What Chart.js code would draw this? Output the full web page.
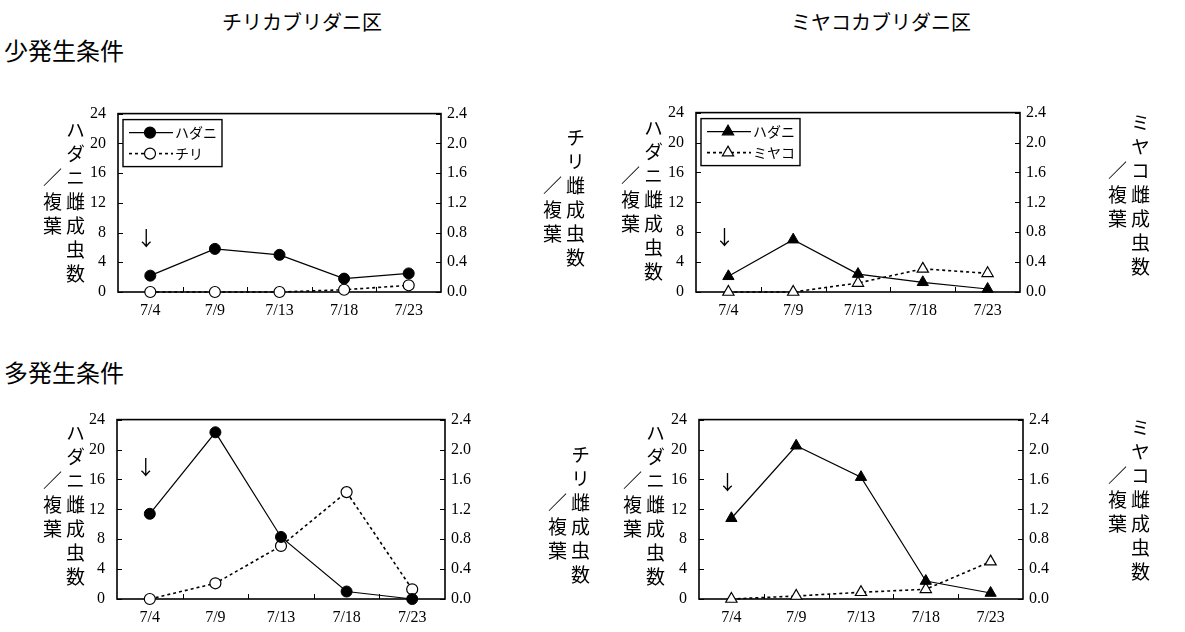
<!DOCTYPE html>
<html lang="ja">
<head>
<meta charset="UTF-8">
<title>ハダニとカブリダニの雌成虫数の推移</title>
<script src="https://cdn.jsdelivr.net/npm/chart.js"></script>
<style>
    body {
        margin: 0;
        width: 1185px;
        height: 632px;
        position: relative;
        overflow: hidden;
        background: #fff;
        color: #000;
        font-family: 'Noto Sans CJK JP', sans-serif;
    }
    .head { position: absolute; font-size: 20px; line-height: 24px; white-space: nowrap; }
    .row { position: absolute; font-size: 24px; line-height: 28px; left: 4px; white-space: nowrap; }
    .vt {
        position: absolute;
        writing-mode: vertical-rl;
        text-orientation: upright;
        font-size: 19px;
        line-height: 22px;
        letter-spacing: 5px;
        white-space: nowrap;
        filter: grayscale(1);
    }
    canvas { position: absolute; }
</style>
</head>
<body>

<div class="head" style="left:222px; top:10px;">チリカブリダニ区</div>
<div class="head" style="left:791px; top:10px;">ミヤコカブリダニ区</div>
<div class="row" style="top:36px;">少発生条件</div>
<div class="row" style="top:358px;">多発生条件</div>

<div id="titles"></div>

<canvas id="c1"></canvas>
<canvas id="c2"></canvas>
<canvas id="c3"></canvas>
<canvas id="c4"></canvas>

<script>
// データ
const dates = ['7/4', '7/9', '7/13', '7/18', '7/23'];

// 少発生条件
const lowChiriHadani = [2.2, 5.8, 5.0, 1.8, 2.5];
const lowChiri = [0, 0, 0, 0.03, 0.09];
const lowMiyaHadani = [2.1, 7.0, 2.4, 1.3, 0.4];
const lowMiyako = [0, 0, 0.12, 0.31, 0.25];

// 多発生条件
const highChiriHadani = [11.4, 22.3, 8.3, 1.0, 0];
const highChiri = [0, 0.21, 0.71, 1.43, 0.13];
const highMiyaHadani = [10.8, 20.5, 16.3, 2.4, 0.8];
const highMiyako = [0, 0.04, 0.09, 0.13, 0.50];

// 放飼日の矢印（左軸の値）
const arrowLevels = [7.2, 7.3, 17.6, 15.6];

const numFont = { family: "'Liberation Serif', serif", size: 16 };
const jpFont = "'Noto Sans CJK JP', sans-serif";

const panels = [
    { id: 'c1', hadani: lowChiriHadani, pred: lowChiri, name: 'チリ', shape: 'circle', arrow: arrowLevels[0], legend: true,
      box: [118, 102, 323, 190], left: [75, 120], right: [575, 128] },
    { id: 'c2', hadani: lowMiyaHadani, pred: lowMiyako, name: 'ミヤコ', shape: 'triangle', arrow: arrowLevels[1], legend: true,
      box: [696, 101, 324, 191], left: [653, 118], right: [1140, 113] },
    { id: 'c3', hadani: highChiriHadani, pred: highChiri, name: 'チリ', shape: 'circle', arrow: arrowLevels[2], legend: false,
      box: [117, 408, 328, 191], left: [75, 423], right: [580, 445] },
    { id: 'c4', hadani: highMiyaHadani, pred: highMiyako, name: 'ミヤコ', shape: 'triangle', arrow: arrowLevels[3], legend: false,
      box: [699, 408, 324, 191], left: [655, 423], right: [1140, 418] }
];

// 縦書きの軸タイトル（2列目は3文字目から）
function vTitle(cx, top, main) {
    const t = document.getElementById('titles');
    const a = document.createElement('div');
    a.className = 'vt';
    a.textContent = main;
    a.style.left = (cx - 11) + 'px';
    a.style.top = top + 'px';
    t.appendChild(a);
    const b = document.createElement('div');
    b.className = 'vt';
    b.textContent = '／複葉';
    b.style.left = (cx - 34) + 'px';
    b.style.top = (top + 48) + 'px';
    t.appendChild(b);
}

function markStyle(shape) {
    return {
        pointStyle: shape,
        radius: shape === 'triangle' ? 6.5 : 5.5,
        rotation: 0,
        borderWidth: 1.2
    };
}

const framePlugin = {
    id: 'frame',
    beforeDatasetsDraw(chart) {
        const { ctx, chartArea: a, scales } = chart;
        ctx.save();
        ctx.strokeStyle = '#000';
        ctx.lineWidth = 1;
        ctx.beginPath();
        scales.y.ticks.forEach(t => {
            const y = Math.round(scales.y.getPixelForValue(t.value)) + 0.5;
            ctx.moveTo(a.left, y);
            ctx.lineTo(a.left + 5, y);
        });
        scales.y1.ticks.forEach(t => {
            const y = Math.round(scales.y1.getPixelForValue(t.value)) + 0.5;
            ctx.moveTo(a.right, y);
            ctx.lineTo(a.right - 5, y);
        });
        for (let i = 1; i < dates.length; i++) {
            const x = Math.round((scales.x.getPixelForValue(i - 1) + scales.x.getPixelForValue(i)) / 2) + 0.5;
            ctx.moveTo(x, a.bottom);
            ctx.lineTo(x, a.bottom - 5);
        }
        ctx.stroke();
        ctx.lineWidth = 1.6;
        ctx.strokeRect(a.left, a.top, a.width, a.height);
        ctx.restore();
    },
    afterDatasetsDraw(chart, args, opts) {
        const { ctx, chartArea: a, scales } = chart;
        ctx.save();
        // 矢印
        ctx.fillStyle = '#000';
        ctx.font = '20px ' + jpFont;
        ctx.textAlign = 'center';
        ctx.textBaseline = 'middle';
        ctx.fillText('↓', scales.x.getPixelForValue(0) - 4, scales.y.getPixelForValue(opts.arrow));

        if (opts.legend) {
            const lx = a.left + 5, ly = a.top + 6, lw = 99, lh = 47;
            ctx.fillStyle = '#fff';
            ctx.fillRect(lx, ly, lw, lh);
            ctx.strokeStyle = '#000';
            ctx.lineWidth = 1.4;
            ctx.strokeRect(lx, ly, lw, lh);

            const rows = [
                { y: ly + 13, dash: [], fill: '#000', text: 'ハダニ' },
                { y: ly + 34, dash: [3, 3], fill: '#fff', text: opts.name }
            ];
            rows.forEach(r => {
                ctx.strokeStyle = '#000';
                ctx.lineWidth = r.dash.length ? 1.6 : 1.2;
                ctx.setLineDash(r.dash);
                ctx.beginPath();
                ctx.moveTo(lx + 6, r.y);
                ctx.lineTo(lx + 50, r.y);
                ctx.stroke();
                ctx.setLineDash([]);
                ctx.fillStyle = r.fill;
                ctx.lineWidth = 1.2;
                Chart.helpers.drawPoint(ctx, markStyle(opts.shape), lx + 27, r.y);
                ctx.fillStyle = '#000';
                ctx.font = '14px ' + jpFont;
                ctx.textAlign = 'left';
                ctx.textBaseline = 'middle';
                ctx.fillText(r.text, lx + 52, r.y);
            });
        }
        ctx.restore();
    }
};

panels.forEach(p => {
    const [bx, by, bw, bh] = p.box;
    const cv = document.getElementById(p.id);
    const padTop = 10, leftW = 30, rightW = 40, bottomH = 30;
    cv.width = bw + leftW + rightW;
    cv.height = bh + padTop + bottomH;
    cv.style.left = (bx - leftW) + 'px';
    cv.style.top = (by - padTop) + 'px';

    vTitle(p.left[0], p.left[1], 'ハダニ雌成虫数');
    vTitle(p.right[0], p.right[1], p.name + '雌成虫数');

    const ms = markStyle(p.shape);
    new Chart(cv, {
        type: 'line',
        data: {
            labels: dates,
            datasets: [
                {
                    label: 'ハダニ',
                    data: p.hadani,
                    yAxisID: 'y',
                    borderColor: '#000',
                    borderWidth: 1.2,
                    backgroundColor: '#000',
                    pointStyle: p.shape,
                    pointRadius: ms.radius,
                    pointBorderWidth: 1,
                    pointBackgroundColor: '#000',
                    pointBorderColor: '#000',
                    tension: 0,
                    clip: false
                },
                {
                    label: p.name,
                    data: p.pred,
                    yAxisID: 'y1',
                    borderColor: '#000',
                    borderWidth: 1.6,
                    borderDash: [3, 3],
                    pointStyle: p.shape,
                    pointRadius: ms.radius,
                    pointBorderWidth: 1.2,
                    pointBackgroundColor: '#fff',
                    pointBorderColor: '#000',
                    tension: 0,
                    clip: false
                }
            ]
        },
        options: {
            responsive: false,
            animation: false,
            events: [],
            layout: { padding: { top: padTop, left: 0, right: 0, bottom: 0 } },
            plugins: {
                legend: { display: false },
                tooltip: { enabled: false },
                frame: { arrow: p.arrow, legend: p.legend, name: p.name, shape: p.shape }
            },
            scales: {
                x: {
                    type: 'category',
                    offset: true,
                    grid: { display: false, drawTicks: false },
                    border: { display: false },
                    ticks: { color: '#000', font: numFont, padding: 9, maxRotation: 0, autoSkip: false },
                    afterFit(s) { s.height = bottomH; }
                },
                y: {
                    position: 'left',
                    min: 0,
                    max: 24,
                    grid: { display: false, drawTicks: false },
                    border: { display: false },
                    ticks: { stepSize: 4, color: '#000', font: numFont, padding: 12 },
                    afterFit(s) { s.width = leftW; }
                },
                y1: {
                    position: 'right',
                    min: 0,
                    max: 2.4,
                    grid: { display: false, drawTicks: false },
                    border: { display: false },
                    ticks: { stepSize: 0.4, color: '#000', font: numFont, padding: 6, callback: v => v.toFixed(1) },
                    afterFit(s) { s.width = rightW; }
                }
            }
        },
        plugins: [framePlugin]
    });
});
</script>
</body>
</html>
